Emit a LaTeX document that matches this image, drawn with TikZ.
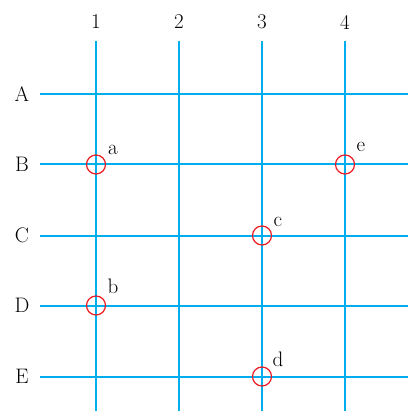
\documentclass[tikz,border=0pt]{standalone}
\definecolor{gridcyan}{RGB}{0,174,239}
\definecolor{markred}{RGB}{237,28,36}
\begin{document}
\begin{tikzpicture}[x=1pt,y=-1pt,
  gridline/.style={draw=gridcyan,line width=2pt},
  marker/.style={draw=markred,line width=1.2pt,circle,minimum size=19pt,inner sep=0pt},
  lbl/.style={font=\fontsize{21}{21}\selectfont,inner sep=0pt}]
\useasboundingbox (0,0) rectangle (408,411);
% column ends
\foreach \n/\x in {1/96,2/179,3/262,4/345}{
  \coordinate (t\n) at (\x,41);
  \coordinate (b\n) at (\x,411);
  \node[lbl] (col\n) at (\x,22) {\n};
  \draw[gridline] (t\n) -- (b\n);
}
\foreach \n/\y in {A/94.5,B/164.5,C/235.5,D/305.5,E/376.5}{
  \coordinate (l\n) at (40,\y);
  \coordinate (r\n) at (408,\y);
  \node[lbl] (row\n) at (22,\y) {\n};
  \draw[gridline] (l\n) -- (r\n);
}
\node[marker] (ma) at (96,164.5) {};
\node[marker] (me) at (345,164.5) {};
\node[marker] (mc) at (262,235.5) {};
\node[marker] (mb) at (96,305.5) {};
\node[marker] (md) at (262,376.5) {};
\node[lbl] (la) at (113,150) {a};
\node[lbl] (le) at (361,147) {e};
\node[lbl] (lc) at (278,222) {c};
\node[lbl] (lb) at (113,286) {b};
\node[lbl] (ld) at (278,359) {d};
\end{tikzpicture}
\end{document}
